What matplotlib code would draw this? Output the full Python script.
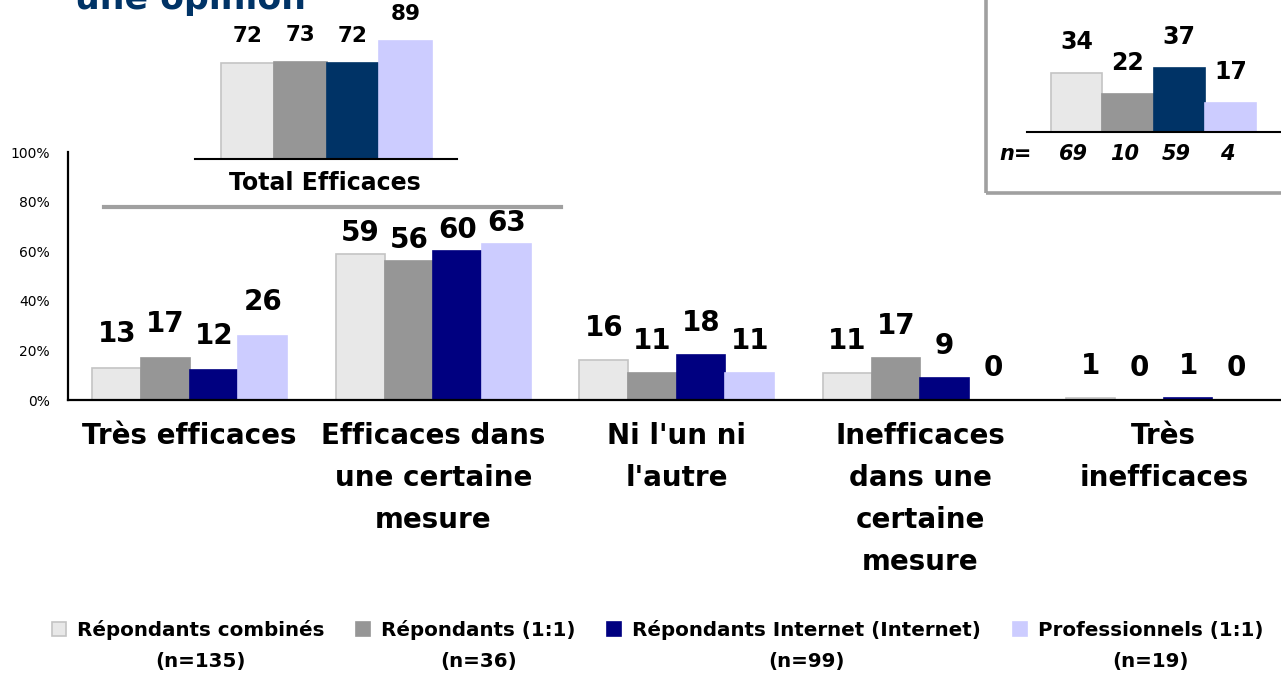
import matplotlib
matplotlib.use("Agg")
import matplotlib.pyplot as plt
from matplotlib.patches import Patch, Rectangle
from matplotlib.lines import Line2D
import numpy as np

# ---------------- data ----------------
categories = ["Très efficaces", "Efficaces dans\nune certaine\nmesure", "Ni l'un ni\nl'autre",
              "Inefficaces\ndans une\ncertaine\nmesure", "Très\ninefficaces"]
series_names = ["Répondants combinés", "Répondants (1:1)", "Répondants Internet (Internet)",
                "Professionnels (1:1)"]
series_n = ["(n=135)", "(n=36)", "(n=99)", "(n=19)"]
combines = [13, 59, 16, 11, 1]
repondants_11 = [17, 56, 11, 17, 0]
internet = [12, 60, 18, 9, 1]
professionnels = [26, 63, 11, 0, 0]
main_values = [combines, repondants_11, internet, professionnels]

total_efficaces = [72, 73, 72, 89]
inset2_values = [34, 22, 37, 17]
inset2_n = ["69", "10", "59", "4"]
yticks = [0, 20, 40, 60, 80, 100]
ytick_labels = ["0%", "20%", "40%", "60%", "80%", "100%"]

# ---------------- style ----------------
face_main = ["#E8E8E8", "#969696", "#000080", "#CCCCFF"]
face_inset = ["#E8E8E8", "#969696", "#003366", "#CCCCFF"]
edge = ["#C4C4C4", "#969696", "#000080", "#CCCCFF"]
edge_inset = ["#C4C4C4", "#969696", "#003366", "#CCCCFF"]
label_offset_px = [34, 21, 32, 32, 32]

W, H = 1281, 677
fig = plt.figure(figsize=(W / 100, H / 100), dpi=100)


def ax_px(left, top, right, bottom):
    return [left / W, 1 - bottom / H, (right - left) / W, (bottom - top) / H]


# ---------------- main axes ----------------
ax = fig.add_axes(ax_px(68, 152, 1285.5, 400))
x = np.arange(len(categories))
bw = 0.2
for i, vals in enumerate(main_values):
    pos = x + (i - 1.5) * bw
    ax.bar(pos, vals, width=bw, color=face_main[i], edgecolor=edge[i], linewidth=1.2)
    for j, (p, v) in enumerate(zip(pos, vals)):
        ax.annotate(str(v), (p, v), xytext=(0, label_offset_px[j] * 0.72), textcoords="offset points",
                    ha="center", va="center", fontsize=20, fontweight="bold", color="black")
ax.set_xlim(-0.5, 4.5)
ax.set_ylim(0, 100)
ax.set_yticks(yticks)
ax.set_yticklabels(ytick_labels, fontsize=10)
ax.set_xticks(x)
ax.set_xticklabels(categories, fontsize=20, fontweight="bold", linespacing=1.63)
ax.tick_params(axis="x", length=0, pad=16)
ax.tick_params(axis="y", length=0, pad=13)
for s in ["top", "right"]:
    ax.spines[s].set_visible(False)
for s in ["left", "bottom"]:
    ax.spines[s].set_linewidth(1.6)
    ax.spines[s].set_color("black")
ax.patch.set_alpha(0)

# ---------------- inset: Total Efficaces ----------------
ax1 = fig.add_axes(ax_px(195, 26, 457, 159))
xi = np.arange(4)
ax1.bar(xi, total_efficaces, width=1.0, color=face_inset, edgecolor=edge_inset, linewidth=1.2)
for p, v in zip(xi, total_efficaces):
    ax1.annotate(str(v), (p, v), xytext=(0, 27 * 0.72), textcoords="offset points",
                 ha="center", va="center", fontsize=15.5, fontweight="bold")
ax1.set_xlim(-0.993, 3.974)
ax1.set_ylim(0, 100)
ax1.axis("off")
ax1.add_line(Line2D([0, 1], [0, 0], transform=ax1.transAxes, color="black", lw=1.5, clip_on=False))

fig.text(325 / W, 1 - 183 / H, "Total Efficaces", ha="center", va="center",
         fontsize=17, fontweight="bold")
fig.add_artist(Line2D([104 / W, 561 / W], [1 - 207 / H, 1 - 207 / H],
                      transform=fig.transFigure, color="#A0A0A0", lw=3))

# ---------------- inset 2 (top right) ----------------
fig.add_artist(Rectangle((986 / W, 1 - 193 / H), 320 / W, 220 / H, transform=fig.transFigure,
                         fill=False, edgecolor="#A0A0A0", lw=2.6))
ax2 = fig.add_axes(ax_px(1027, -41, 1290, 132))
ax2.bar(xi, inset2_values, width=1.0, color=face_inset, edgecolor=edge_inset, linewidth=1.2)
for p, v in zip(xi, inset2_values):
    ax2.annotate(str(v), (p, v), xytext=(0, 31 * 0.72), textcoords="offset points",
                 ha="center", va="center", fontsize=17, fontweight="bold")
ax2.set_xlim(-0.968, 4.16)
ax2.set_ylim(0, 100)
ax2.axis("off")
ax2.add_line(Line2D([0, 1], [0, 0], transform=ax2.transAxes, color="black", lw=1.5, clip_on=False))
fig.text(1016 / W, 1 - 154 / H, "n=", ha="center", va="center", fontsize=15,
         fontweight="bold", style="italic")
for p, n in zip(xi, inset2_n):
    xd = ax2.transData.transform((p, 0))[0]
    fig.text(xd / W - 3 / W, 1 - 154 / H, n, ha="center", va="center", fontsize=15,
             fontweight="bold", style="italic")

# ---------------- title fragment (cut at the top edge, as in the reference) ----------------
fig.text(75 / W, 1 - 9 / H, "une opinion", ha="left", va="baseline", fontsize=25,
         fontweight="bold", color="#003366")

# ---------------- legend ----------------
handles = [Patch(facecolor=face_main[i], edgecolor=edge[i], linewidth=1.2) for i in range(4)]
leg = fig.legend(handles, series_names, loc="upper left", bbox_to_anchor=(52 / W, 1 - 620 / H),
                 ncol=4, frameon=False, borderpad=0, borderaxespad=0,
                 prop={"size": 14.3, "weight": "bold"}, handlelength=0.7, handleheight=0.7,
                 handletextpad=0.55, columnspacing=1.6)
fig.canvas.draw()
renderer = fig.canvas.get_renderer()
for t, n in zip(leg.get_texts(), series_n):
    bb = t.get_window_extent(renderer)
    cx = (bb.x0 + bb.x1) / 2
    fig.text(cx / W, 1 - 662 / H, n, ha="center", va="center", fontsize=14.3, fontweight="bold")

fig.savefig("out.png", dpi=100)
